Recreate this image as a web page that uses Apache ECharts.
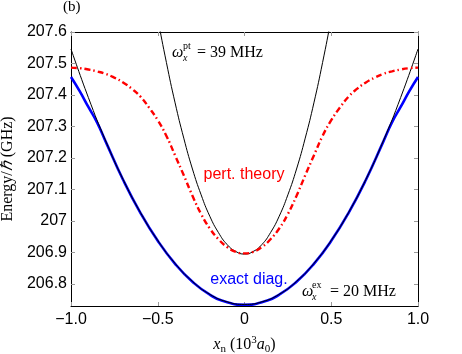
<!DOCTYPE html>
<html>
<head>
<meta charset="utf-8">
<script src="https://cdn.jsdelivr.net/npm/echarts@6/dist/echarts.min.js"></script>
<style>
  html, body { margin: 0; padding: 0; background: #fff; }
  #chart { width: 462px; height: 354px; }
</style>
</head>
<body>
<div id="chart"></div>
<script>
'use strict';

// exact diagonalisation (blue)
var xExact = [-1, -0.95, -0.9, -0.85, -0.8, -0.7, -0.6, -0.5, -0.4, -0.3, -0.2, -0.1, 0,
  0.1, 0.2, 0.3, 0.4, 0.5, 0.6, 0.7, 0.8, 0.85, 0.9, 0.95, 1];
var yExact = [207.457, 207.412, 207.362, 207.313, 207.252, 207.131, 207.026, 206.937, 206.864, 206.807, 206.766, 206.742, 206.734,
  206.742, 206.766, 206.807, 206.864, 206.937, 207.026, 207.131, 207.252, 207.313, 207.362, 207.412, 207.457];

// harmonic fit, omega_x^ex = 20 MHz (black, wide)
var xFitEx = [-1, -0.9, -0.8, -0.7, -0.6, -0.5, -0.4, -0.3, -0.2, -0.1, 0, 0.1, 0.2, 0.3, 0.4, 0.5, 0.6, 0.7, 0.8, 0.9, 1];
var yFitEx = [207.546, 207.392, 207.254, 207.132, 207.027, 206.938, 206.865, 206.808, 206.767, 206.743, 206.735,
  206.743, 206.767, 206.808, 206.865, 206.938, 207.027, 207.132, 207.254, 207.392, 207.546];

// perturbation theory (red dash-dot)
var xPert = [-1, -0.95, -0.9, -0.85, -0.8, -0.75, -0.7, -0.65, -0.6, -0.55, -0.5, -0.45, -0.4, -0.35, -0.3, -0.25, -0.2, -0.15, -0.1, -0.05, 0,
  0.05, 0.1, 0.15, 0.2, 0.25, 0.3, 0.35, 0.4, 0.45, 0.5, 0.55, 0.6, 0.65, 0.7, 0.75, 0.8, 0.85, 0.9, 0.95, 1];
var yPert = [207.487, 207.485, 207.481, 207.475, 207.467, 207.455, 207.44, 207.42, 207.395, 207.36, 207.32, 207.27, 207.208, 207.145, 207.08, 207.022, 206.976, 206.942, 206.917, 206.902, 206.897,
  206.902, 206.917, 206.942, 206.976, 207.022, 207.08, 207.145, 207.208, 207.27, 207.32, 207.36, 207.395, 207.42, 207.44, 207.455, 207.467, 207.475, 207.481, 207.485, 207.487];

// harmonic fit, omega_x^pt = 39 MHz (black, narrow)
var xFitPt = [-0.55, -0.5, -0.45, -0.4, -0.35, -0.3, -0.25, -0.2, -0.15, -0.1, -0.05, 0,
  0.05, 0.1, 0.15, 0.2, 0.25, 0.3, 0.35, 0.4, 0.45, 0.5, 0.55];
var yFitPt = [207.803, 207.645, 207.503, 207.375, 207.263, 207.165, 207.083, 207.015, 206.963, 206.925, 206.903, 206.895,
  206.903, 206.925, 206.963, 207.015, 207.083, 207.165, 207.263, 207.375, 207.503, 207.645, 207.803];

var yTicks = [206.8, 206.9, 207, 207.1, 207.2, 207.3, 207.4, 207.5, 207.6];

function pairs(xs, ys) {
  return xs.map(function(x, i) { return [x, ys[i]]; });
}

var sans = 'Liberation Sans';
var serif = 'Liberation Serif';

function xLabel(v) {
  if (Math.abs(v) < 1e-9) return '0';
  return v.toFixed(1).replace('-', '\u2212');
}
function yLabel(v) {
  return String(parseFloat(v.toFixed(1)));
}

var tickStyle = { show: true, inside: true, length: 4, lineStyle: { color: '#999', width: 1 } };
var lineStyle = { show: true, onZero: false, lineStyle: { color: '#000', width: 1 } };

var dom = document.getElementById('chart');
var myChart = echarts.init(dom, null, { renderer: 'canvas' });

var option = {
  animation: false,
  backgroundColor: '#fff',
  grid: { left: 71, right: 44, top: 32, bottom: 48, containLabel: false, outerBoundsMode: 'none' },
  xAxis: [{
    type: 'value', min: -1, max: 1, interval: 0.5,
    axisLine: lineStyle, axisTick: tickStyle, splitLine: { show: false },
    axisLabel: { formatter: xLabel, fontFamily: sans, fontSize: 16, color: '#000', margin: 6 },
    name: '{i|x}{sub|n}{r| (10}{sup|3}{i|a}{sub|0}{r|)}',
    nameLocation: 'middle', nameGap: 29,
    nameTextStyle: {
      rich: {
        i: { fontFamily: serif, fontStyle: 'italic', fontSize: 16, color: '#000', lineHeight: 20 },
        r: { fontFamily: serif, fontSize: 16, color: '#000', lineHeight: 20 },
        sub: { fontFamily: serif, fontSize: 11, color: '#000', verticalAlign: 'bottom', lineHeight: 14 },
        sup: { fontFamily: serif, fontSize: 11, color: '#000', verticalAlign: 'top', lineHeight: 14 }
      }
    }
  }, {
    type: 'value', position: 'top', min: -1, max: 1, interval: 0.5,
    axisLine: lineStyle, axisTick: tickStyle, axisLabel: { show: false }, splitLine: { show: false }
  }],
  yAxis: [{
    type: 'value', min: 206.73, max: 207.6,
    axisLine: lineStyle, splitLine: { show: false },
    axisTick: { show: true, inside: true, length: 4, lineStyle: { color: '#999', width: 1 }, customValues: yTicks },
    axisLabel: { formatter: yLabel, fontFamily: sans, fontSize: 16, color: '#000', margin: 4, customValues: yTicks },
    name: '{r|Energy/}{i|\u210F}{r| (GHz)}',
    nameLocation: 'middle', nameGap: 53,
    nameTextStyle: {
      rich: {
        i: { fontFamily: serif, fontStyle: 'italic', fontSize: 16, color: '#000' },
        r: { fontFamily: serif, fontSize: 16, color: '#000' }
      }
    }
  }, {
    type: 'value', position: 'right', min: 206.73, max: 207.6,
    axisLine: lineStyle, splitLine: { show: false },
    axisTick: { show: true, inside: true, length: 4, lineStyle: { color: '#999', width: 1 }, customValues: yTicks },
    axisLabel: { show: false }
  }],
  series: [{
    name: 'exact diag.', type: 'line', data: pairs(xExact, yExact),
    smooth: true, showSymbol: false, clip: true,
    lineStyle: { color: '#0000ff', width: 2.6 }, z: 2
  }, {
    name: 'fit ex', type: 'line', data: pairs(xFitEx, yFitEx),
    smooth: true, showSymbol: false, clip: true,
    lineStyle: { color: '#000', width: 1 }, z: 3
  }, {
    name: 'pert. theory', type: 'line', data: pairs(xPert, yPert),
    smooth: true, showSymbol: false, clip: true,
    lineStyle: { color: '#ff0000', width: 2.4, type: [6, 3, 1.5, 3] }, z: 4
  }, {
    name: 'fit pt', type: 'line', data: pairs(xFitPt, yFitPt),
    smooth: true, showSymbol: false, clip: true,
    lineStyle: { color: '#000', width: 1 }, z: 3
  }],
  graphic: [
    { type: 'text', left: 63, top: 0, style: { text: '(b)', font: '15px ' + serif, fill: '#000' } },
    { type: 'text', x: 244, y: 175, style: { text: 'pert. theory', font: '16px ' + sans, fill: '#ff0000', align: 'center', verticalAlign: 'middle' } },
    { type: 'text', x: 249, y: 280, style: { text: 'exact diag.', font: '16px ' + sans, fill: '#0000ff', align: 'center', verticalAlign: 'middle' } },
    // omega_x^pt = 39 MHz
    { type: 'text', x: 172, y: 53, style: { text: '\u03C9', font: 'italic 16px ' + serif, fill: '#000', verticalAlign: 'middle' } },
    { type: 'text', x: 183, y: 46, style: { text: 'pt', font: '10px ' + serif, fill: '#000', verticalAlign: 'middle' } },
    { type: 'text', x: 183, y: 58, style: { text: 'x', font: 'italic 10px ' + serif, fill: '#000', verticalAlign: 'middle' } },
    { type: 'text', x: 197, y: 53, style: { text: '= 39 MHz', font: '16px ' + serif, fill: '#000', verticalAlign: 'middle' } },
    // omega_x^ex = 20 MHz
    { type: 'text', x: 302, y: 292, style: { text: '\u03C9', font: 'italic 16px ' + serif, fill: '#000', verticalAlign: 'middle' } },
    { type: 'text', x: 312, y: 285, style: { text: 'ex', font: '10px ' + serif, fill: '#000', verticalAlign: 'middle' } },
    { type: 'text', x: 312, y: 297, style: { text: 'x', font: 'italic 10px ' + serif, fill: '#000', verticalAlign: 'middle' } },
    { type: 'text', x: 330, y: 292, style: { text: '= 20 MHz', font: '16px ' + serif, fill: '#000', verticalAlign: 'middle' } }
  ]
};

myChart.setOption(option);
</script>
</body>
</html>
